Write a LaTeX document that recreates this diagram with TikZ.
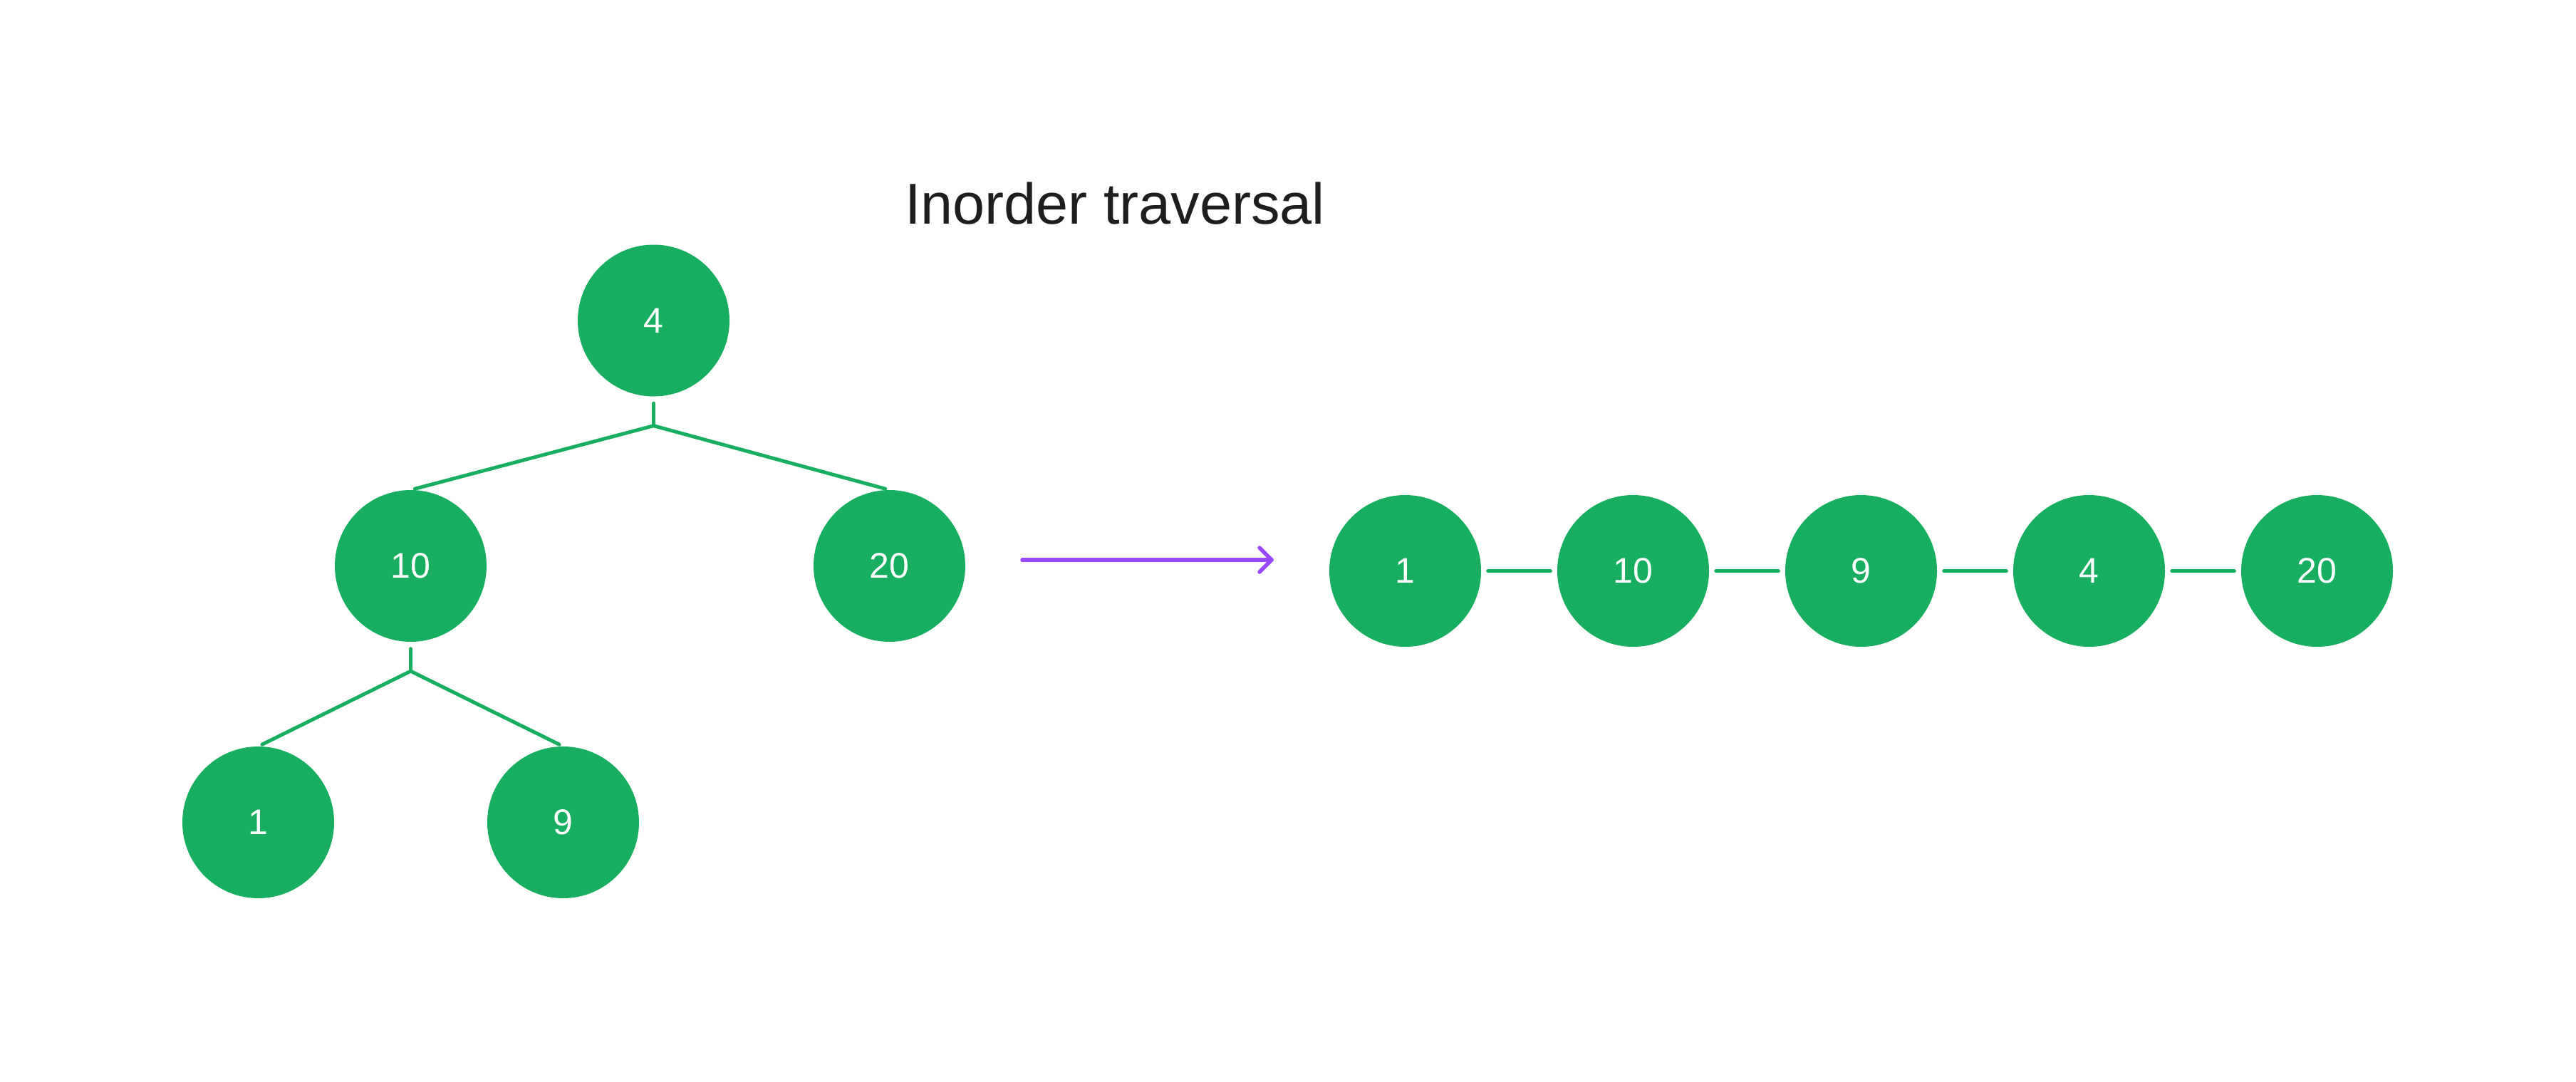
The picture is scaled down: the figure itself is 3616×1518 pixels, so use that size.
\documentclass[tikz,border=0pt]{standalone}
\usepackage{fontspec}
\setmainfont{Liberation Sans}
\usetikzlibrary{calc}
\definecolor{nodegreen}{HTML}{17AF5F}
\definecolor{arrowpurple}{HTML}{9747FF}
\definecolor{titlegray}{HTML}{1E1E1E}
\begin{document}
\begin{tikzpicture}[x=1pt,y=-1pt,
  treenode/.style={circle, fill=nodegreen, minimum size=213pt, inner sep=0pt, text=white, font=\fontsize{50}{60}\selectfont},
  edgeline/.style={draw=nodegreen, line width=5pt, line cap=round, line join=round},
  arrowline/.style={draw=arrowpurple, line width=5.5pt, line cap=round, line join=round},
  titletext/.style={anchor=base west, inner sep=0pt, text=titlegray, font=\fontsize{81}{97}\selectfont}]
\useasboundingbox (0,0) rectangle (3616,1518);
\fill[white] (0,0) rectangle (3616,1518);

\node[titletext] (title) at (1270,314) {Inorder traversal};

% tree
\node[treenode] (t4) at (917.5,450) {4};
\node[treenode] (t10) at (576.5,794.5) {10};
\node[treenode] (t20) at (1248.5,794.5) {20};
\node[treenode] (t1) at (362.5,1154.5) {1};
\node[treenode] (t9) at (790.5,1154.5) {9};

\coordinate (s1) at ($(t4.south)+(0,9.5)$);
\coordinate (j1) at ($(t4.south)+(0,41)$);
\draw[edgeline] (s1) -- (j1);
\draw[edgeline] ($(t10.north)!6pt!(j1)$) -- (j1) -- ($(t20.north)!6pt!(j1)$);

\coordinate (s2) at ($(t10.south)+(0,9.5)$);
\coordinate (j2) at ($(t10.south)+(0,41)$);
\draw[edgeline] (s2) -- (j2);
\draw[edgeline] ($(t1.north)!6pt!(j2)$) -- (j2) -- ($(t9.north)!6pt!(j2)$);

% arrow
\coordinate (a0) at (1435,786);
\coordinate (a1) at (1785,786);
\draw[arrowline] (a0) -- (a1);
\draw[arrowline] ($(a1)+(-17,-17)$) -- (a1) -- ($(a1)+(-17,17)$);

% list
\node[treenode] (l1) at (1972.5,801.5) {1};
\node[treenode] (l10) at (2292.5,801.5) {10};
\node[treenode] (l9) at (2612.5,801.5) {9};
\node[treenode] (l4) at (2932.5,801.5) {4};
\node[treenode] (l20) at (3252.5,801.5) {20};

\draw[edgeline] ($(l1.east)+(9.5,0)$) -- ($(l10.west)+(-9.5,0)$);
\draw[edgeline] ($(l10.east)+(9.5,0)$) -- ($(l9.west)+(-9.5,0)$);
\draw[edgeline] ($(l9.east)+(9.5,0)$) -- ($(l4.west)+(-9.5,0)$);
\draw[edgeline] ($(l4.east)+(9.5,0)$) -- ($(l20.west)+(-9.5,0)$);
\end{tikzpicture}
\end{document}
